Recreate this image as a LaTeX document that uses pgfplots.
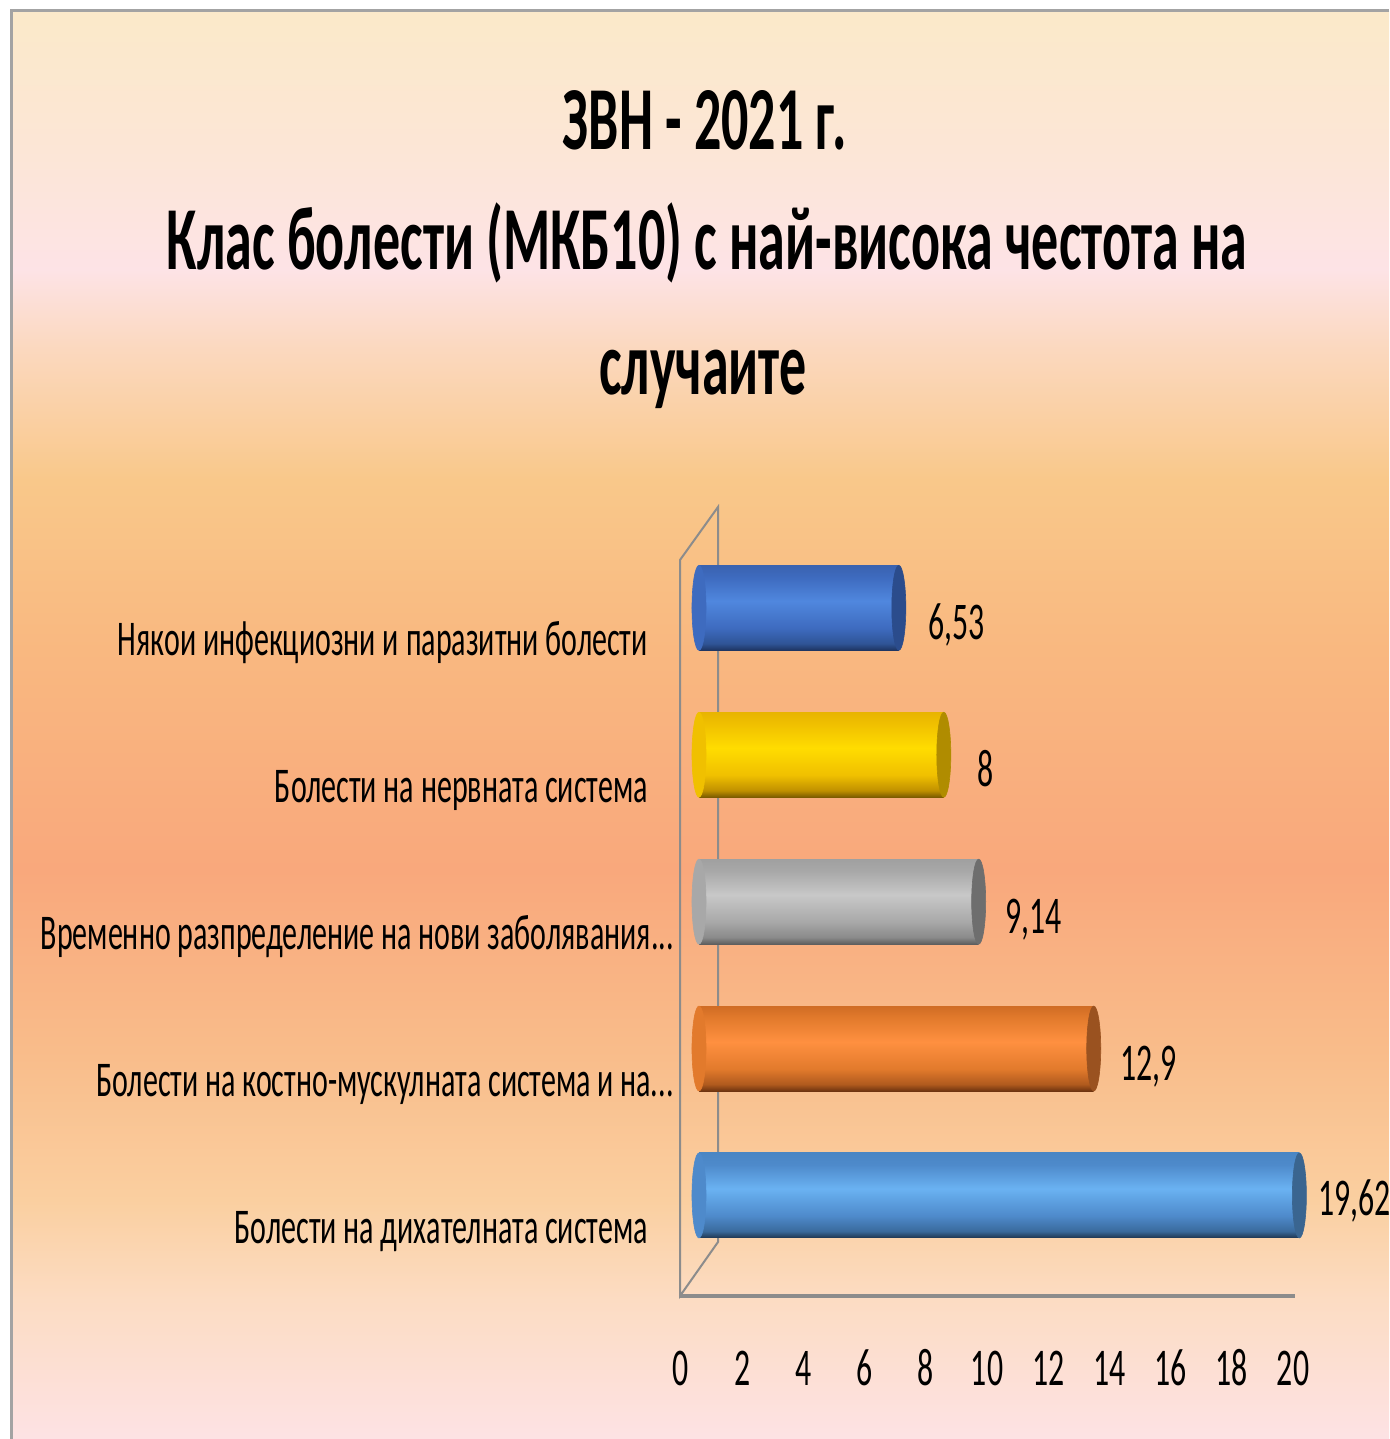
\documentclass[border=0pt]{standalone}
\usepackage{pgfplots}
\pgfplotsset{compat=1.18}
\usepackage{fontspec}
\setmainfont{Carlito}[FakeStretch=0.6]
\newfontfamily\titlefont{Carlito}[FakeStretch=0.6]

% background colours
\definecolor{bgA}{HTML}{FBE9CA}
\definecolor{bgB}{HTML}{FCE6D6}
\definecolor{bgC}{HTML}{FDE3E6}
\definecolor{bgD}{HTML}{FBD8BE}
\definecolor{bgE}{HTML}{F9C88A}
\definecolor{bgF}{HTML}{F9B880}
\definecolor{bgG}{HTML}{F9A87C}
\definecolor{bgH}{HTML}{F9BC8A}
\definecolor{bgI}{HTML}{FACFA0}
\definecolor{bgJ}{HTML}{FCDCC3}
\definecolor{bgK}{HTML}{FDE2E4}
\pgfdeclareverticalshading{bgshade}{100bp}{%
color(0bp)=(bgK); color(25bp)=(bgK); color(29.87bp)=(bgJ); color(33.37bp)=(bgI);
color(38.63bp)=(bgH); color(44.94bp)=(bgG); color(52.65bp)=(bgF); color(58.6bp)=(bgE);
color(63.16bp)=(bgD); color(65.96bp)=(bgC); color(70.16bp)=(bgB); color(74.72bp)=(bgA);
color(100bp)=(bgA)}

% cylinder colours: dark, dark2, mid, light, top, cap
\definecolor{bluD}{HTML}{1E3460}\definecolor{bluE}{HTML}{2F5496}\definecolor{bluM}{HTML}{3E6BBF}
\definecolor{bluL}{HTML}{5087DE}\definecolor{bluT}{HTML}{3A62B0}\definecolor{bluC}{HTML}{2B4C8C}
\definecolor{yelD}{HTML}{7A5A00}\definecolor{yelE}{HTML}{C09000}\definecolor{yelM}{HTML}{F0C000}
\definecolor{yelL}{HTML}{FFDC00}\definecolor{yelT}{HTML}{E8B400}\definecolor{yelC}{HTML}{B08C00}
\definecolor{gryD}{HTML}{5E5E5E}\definecolor{gryE}{HTML}{8A8A8A}\definecolor{gryM}{HTML}{A8A8A8}
\definecolor{gryL}{HTML}{C8C8C8}\definecolor{gryT}{HTML}{A0A0A0}\definecolor{gryC}{HTML}{6E6E6E}
\definecolor{orgD}{HTML}{6E3410}\definecolor{orgE}{HTML}{B05A1E}\definecolor{orgM}{HTML}{E27A2C}
\definecolor{orgL}{HTML}{FF9040}\definecolor{orgT}{HTML}{D06C24}\definecolor{orgC}{HTML}{9A5220}
\definecolor{lbuD}{HTML}{1F3650}\definecolor{lbuE}{HTML}{3A6A9C}\definecolor{lbuM}{HTML}{4E8ACB}
\definecolor{lbuL}{HTML}{6AB2F2}\definecolor{lbuT}{HTML}{4A86C4}\definecolor{lbuC}{HTML}{3A6590}
\newcommand\cylshade[1]{\pgfdeclareverticalshading{#1Cyl}{100bp}{%
color(0bp)=(#1D); color(25bp)=(#1D); color(29bp)=(#1E); color(38bp)=(#1M);
color(54bp)=(#1L); color(68bp)=(#1M); color(75bp)=(#1T); color(100bp)=(#1T)}}
\cylshade{blu}\cylshade{yel}\cylshade{gry}\cylshade{org}\cylshade{lbu}
\definecolor{framegray}{HTML}{8C8C8C}
\newcommand\threedots{.\kern0pt.\kern0pt.}

\begin{document}
\begin{tikzpicture}[x=0.5pt,y=0.5pt]
\useasboundingbox (0,0) rectangle (1389,1439);
\fill[white] (0,0) rectangle (1389,1439);
\shade[shading=bgshade] (12,0) rectangle (1389,1427);
\draw[framegray!80, line width=1.5pt] (11,0) -- (11,1428) -- (1389,1428);

% title
\node[anchor=base, inner sep=0pt] at (705,1289) {\titlefont\bfseries\fontsize{45pt}{50pt}\selectfont ЗВН - 2021 г.};
\node[anchor=base, inner sep=0pt] at (707,1169) {\titlefont\bfseries\fontsize{45pt}{50pt}\selectfont Клас болести (МКБ10) с най-висока честота на};
\node[anchor=base, inner sep=0pt] at (703,1044) {\titlefont\bfseries\fontsize{45pt}{50pt}\selectfont случаите};

% 3D frame
\draw[framegray, line width=1pt] (680,143) -- (680,879) -- (718,932) -- (718,197) -- cycle;
\draw[framegray, line width=2pt] (680,143) -- (1295,143);

\begin{axis}[
  at={(349.5pt,77.7pt)}, anchor=south west,
  scale only axis, width=306pt, height=381.95pt,
  xmin=0, xmax=20, ymin=-0.6, ymax=4.6,
  axis line style={draw=none}, major tick length=0pt,
  xtick={0,2,4,6,8,10,12,14,16,18,20}, ytick={0,1,2,3,4},
  yticklabels={{Болести на дихателната система},
    {Болести на костно-мускулната система и на\threedots\hspace*{-13pt}},
    {Временно разпределение на нови заболявания\threedots\hspace*{-13pt}},
    {Болести на нервната система},
    {Някои инфекциозни и паразитни болести}},
  /pgf/number format/assume math mode=true,
  tick label style={font=\fontsize{26.5pt}{30pt}\selectfont, inner sep=0pt},
  yticklabel style={font=\fontsize{25pt}{30pt}\selectfont, anchor=base east, xshift=-25.5pt, yshift=-24pt},
  xticklabel style={anchor=base, xshift=-9pt, yshift=-50.7pt},
  clip=false,
  every node near coord/.append style={font=\fontsize{26.5pt}{30pt}\selectfont, anchor=base west, inner sep=0pt},
  point meta=explicit symbolic,
  mk/.style={only marks, mark=*, mark size=21.25pt, mark options={xscale=0.165, line width=0.3pt, draw=#1, fill=#1}},
]
% left ends
\addplot[mk=bluM] coordinates {(0,4)};
\addplot[mk=yelM] coordinates {(0,3)};
\addplot[mk=gryM] coordinates {(0,2)};
\addplot[mk=orgM] coordinates {(0,1)};
\addplot[mk=lbuM] coordinates {(0,0)};
% bodies
\addplot[xbar, bar width=42.5pt, bar shift=0pt, draw=none, shade, shading=bluCyl,
  nodes near coords, nodes near coords style={xshift=14.5pt, yshift=-16pt}] coordinates {(6.53,4) [6,53]};
\addplot[xbar, bar width=42.5pt, bar shift=0pt, draw=none, shade, shading=yelCyl,
  nodes near coords, nodes near coords style={xshift=16.5pt, yshift=-16pt}] coordinates {(8,3) [8]};
\addplot[xbar, bar width=42.5pt, bar shift=0pt, draw=none, shade, shading=gryCyl,
  nodes near coords, nodes near coords style={xshift=13pt, yshift=-16pt}] coordinates {(9.14,2) [9,14]};
\addplot[xbar, bar width=42.5pt, bar shift=0pt, draw=none, shade, shading=orgCyl,
  nodes near coords, nodes near coords style={xshift=13pt, yshift=-16pt}] coordinates {(12.9,1) [12,9]};
\addplot[xbar, bar width=42.5pt, bar shift=0pt, draw=none, shade, shading=lbuCyl,
  nodes near coords, nodes near coords style={xshift=9.3pt, yshift=-10pt}] coordinates {(19.62,0) [19,62]};
% right caps
\addplot[mk=bluC] coordinates {(6.53,4)};
\addplot[mk=yelC] coordinates {(8,3)};
\addplot[mk=gryC] coordinates {(9.14,2)};
\addplot[mk=orgC] coordinates {(12.9,1)};
\addplot[mk=lbuC] coordinates {(19.62,0)};
\end{axis}
\end{tikzpicture}
\end{document}
